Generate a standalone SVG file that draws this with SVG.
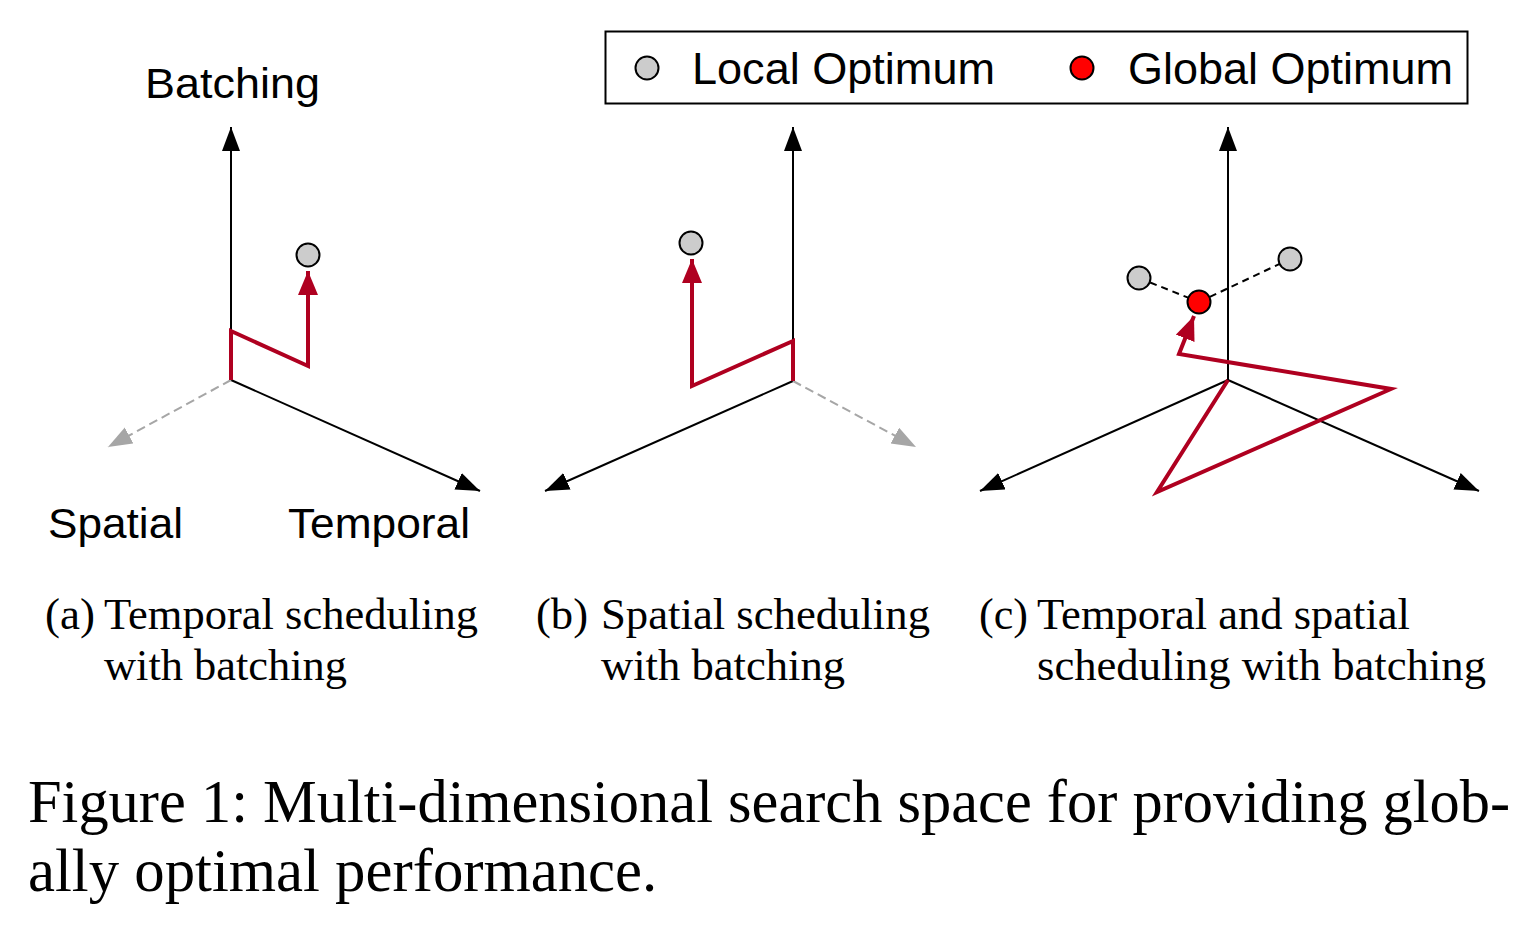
<svg xmlns="http://www.w3.org/2000/svg" width="1531" height="950" viewBox="0 0 1531 950">
<style>
.axis{stroke:#000;stroke-width:2;fill:none}
.ghost{stroke:#A6A6A6;stroke-width:2;fill:none;stroke-dasharray:9 5}
.path{stroke:#AF0020;stroke-width:4;fill:none;stroke-linejoin:miter}
.link{stroke:#000;stroke-width:2;fill:none;stroke-dasharray:7 5}
.local{fill:#CCCCCC;stroke:#000;stroke-width:2}
.global{fill:#FF0000;stroke:#000;stroke-width:2}
.sans{font-family:"Liberation Sans",Arial,Helvetica,sans-serif;fill:#000}
.serif{font-family:"Liberation Serif","Times New Roman",serif;fill:#000}
</style>
<defs>
<marker id="ahBlack" markerUnits="userSpaceOnUse" markerWidth="26" markerHeight="20" refX="24" refY="9" orient="auto" viewBox="0 0 26 20">
<path d="M0,0 L24,9 L0,18 z" fill="#000"/>
</marker>
<marker id="ahGray" markerUnits="userSpaceOnUse" markerWidth="26" markerHeight="20" refX="24" refY="9" orient="auto" viewBox="0 0 26 20">
<path d="M0,0 L24,9 L0,18 z" fill="#A6A6A6"/>
</marker>
<marker id="ahRed" markerUnits="userSpaceOnUse" markerWidth="26" markerHeight="22" refX="24" refY="10" orient="auto" viewBox="0 0 26 22">
<path d="M0,0 L24,10 L0,20 z" fill="#AF0020"/>
</marker>
</defs>
<rect width="1531" height="950" fill="#fff"/>

<g id="connectors">
<line class="axis" x1="231" y1="380" x2="231" y2="127" marker-end="url(#ahBlack)"/>
<line class="axis" x1="231" y1="380" x2="480" y2="491" marker-end="url(#ahBlack)"/>
<line class="ghost" x1="231" y1="380" x2="108" y2="447" marker-end="url(#ahGray)"/>
<line class="axis" x1="793" y1="381" x2="793" y2="127" marker-end="url(#ahBlack)"/>
<line class="axis" x1="793" y1="381" x2="545" y2="491" marker-end="url(#ahBlack)"/>
<line class="ghost" x1="793" y1="381" x2="916" y2="447" marker-end="url(#ahGray)"/>
<line class="axis" x1="1228" y1="380" x2="1228" y2="127" marker-end="url(#ahBlack)"/>
<line class="axis" x1="1228" y1="380" x2="980" y2="491" marker-end="url(#ahBlack)"/>
<line class="axis" x1="1228" y1="380" x2="1479" y2="491" marker-end="url(#ahBlack)"/>
<line class="link" x1="1139" y1="278" x2="1199" y2="302"/>
<line class="link" x1="1199" y1="302" x2="1290" y2="259"/>
<polyline class="path" points="231,380 231,331 308,366 308,271" marker-end="url(#ahRed)"/>
<polyline class="path" points="793,381 793,341 692,386 692,259" marker-end="url(#ahRed)"/>
<polyline class="path" points="1228,380 1157,492 1391,389 1179,354 1194,316" marker-end="url(#ahRed)"/>
</g>

<g id="panel-a">
<text class="sans" x="145" y="98" font-size="42" textLength="175" lengthAdjust="spacingAndGlyphs">Batching</text>
<text class="sans" x="48" y="538" font-size="42" textLength="135" lengthAdjust="spacingAndGlyphs">Spatial</text>
<text class="sans" x="288" y="538" font-size="42" textLength="182" lengthAdjust="spacingAndGlyphs">Temporal</text>
<circle id="local-a" class="local" cx="308" cy="255" r="11.5"/>
</g>

<g id="panel-b">
<circle id="local-b" class="local" cx="691" cy="243" r="11.5"/>
</g>

<g id="panel-c">
<circle id="local-c1" class="local" cx="1139" cy="278" r="11.5"/>
<circle id="local-c2" class="local" cx="1290" cy="259" r="11.5"/>
<circle id="global-c" class="global" cx="1199" cy="302" r="11.5"/>
</g>

<g id="legend">
<rect x="605.5" y="31.5" width="862" height="72" fill="#fff" stroke="#000" stroke-width="2"/>
<circle class="local" cx="647" cy="68" r="11.5"/>
<text class="sans" x="692" y="84" font-size="44" textLength="303" lengthAdjust="spacingAndGlyphs">Local Optimum</text>
<circle class="global" cx="1082" cy="68" r="11.5"/>
<text class="sans" x="1128" y="84" font-size="44" textLength="325" lengthAdjust="spacingAndGlyphs">Global Optimum</text>
</g>

<g id="caption-a">
<text class="serif" x="45" y="629" font-size="44" textLength="50" lengthAdjust="spacingAndGlyphs">(a)</text>
<text class="serif" x="104" y="629" font-size="44" textLength="374" lengthAdjust="spacingAndGlyphs">Temporal scheduling</text>
<text class="serif" x="104" y="680" font-size="44" textLength="243" lengthAdjust="spacingAndGlyphs">with batching</text>
</g>

<g id="caption-b">
<text class="serif" x="536" y="629" font-size="44" textLength="52" lengthAdjust="spacingAndGlyphs">(b)</text>
<text class="serif" x="601" y="629" font-size="44" textLength="329" lengthAdjust="spacingAndGlyphs">Spatial scheduling</text>
<text class="serif" x="601" y="680" font-size="44" textLength="244" lengthAdjust="spacingAndGlyphs">with batching</text>
</g>

<g id="caption-c">
<text class="serif" x="979" y="629" font-size="44" textLength="49" lengthAdjust="spacingAndGlyphs">(c)</text>
<text class="serif" x="1037" y="629" font-size="44" textLength="373" lengthAdjust="spacingAndGlyphs">Temporal and spatial</text>
<text class="serif" x="1037" y="680" font-size="44" textLength="449" lengthAdjust="spacingAndGlyphs">scheduling with batching</text>
</g>

<g id="figure-caption">
<text class="serif" font-size="62" transform="translate(28 822) scale(0.975 1)">Figure 1: Multi-dimensional search space for providing glob-</text>
<text class="serif" font-size="62" transform="translate(28 891) scale(0.98 1)">ally optimal performance.</text>
</g>
</svg>
